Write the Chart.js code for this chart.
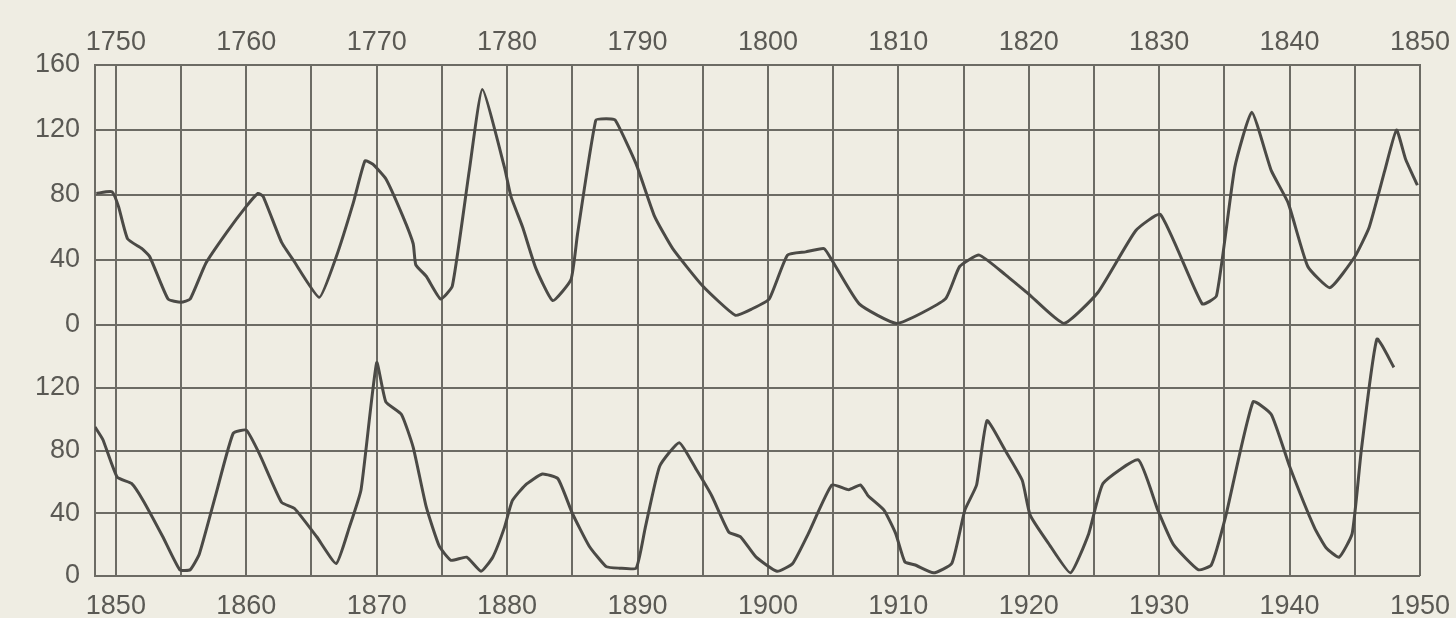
<!DOCTYPE html>
<html>
<head>
<meta charset="utf-8">
<script src="https://cdn.jsdelivr.net/npm/chart.js@4"></script>
<style>
    html, body { margin: 0; padding: 0; background: #efede3; }
    #wrap { width: 1456px; height: 618px; position: relative; }
</style>
</head>
<body>
<div id="wrap"><canvas id="sunChart"></canvas></div>
<script>
// 上段 1750-1850
const topYears = [1748.5, 1749.7, 1750.2, 1750.9, 1752.0, 1752.6, 1754.0, 1755.0, 1755.7, 1756.9,
    1758.5, 1760.0, 1760.9, 1761.3, 1762.7, 1763.6, 1765.6, 1766.9, 1768.2, 1769.1,
    1769.7, 1770.7, 1772.0, 1772.8, 1773.0, 1773.8, 1774.9, 1775.8, 1777.1, 1778.1,
    1779.8, 1780.3, 1781.2, 1782.2, 1783.5, 1784.9, 1785.4, 1786.8, 1787.6, 1788.3,
    1789.9, 1791.3, 1792.7, 1795.0, 1797.5, 1798.8, 1800.1, 1801.5, 1802.9, 1804.3,
    1804.9, 1807.0, 1809.9, 1813.6, 1814.7, 1816.2, 1818.2, 1820.0, 1822.7, 1825.3,
    1828.2, 1830.1, 1833.3, 1834.4, 1835.8, 1837.1, 1838.6, 1839.9, 1841.4, 1843.1,
    1845.0, 1846.1, 1847.3, 1848.2, 1848.9, 1849.8];
const topValues = [81, 82, 73, 53, 47, 42, 16, 14, 16, 38,
    57, 73, 81, 79, 51, 40, 17, 42, 75, 101,
    99, 90, 67, 50, 37, 30, 16, 24, 95, 145,
    97, 79, 60, 35, 15, 28, 56, 126, 127, 126,
    99, 67, 47, 24, 6, 10, 16, 43, 45, 47,
    40, 13, 1, 16, 36, 43, 31, 19, 1, 20,
    58, 68, 13, 18, 97, 131, 95, 75, 36, 23,
    42, 60, 95, 120, 102, 86];

// 下段 1850-1950
const bottomYears = [1848.4, 1849.0, 1850.1, 1851.2, 1852.1, 1853.6, 1854.9, 1855.7, 1856.4, 1857.7,
    1859.0, 1860.0, 1861.0, 1862.7, 1863.7, 1865.4, 1866.9, 1867.9, 1868.8, 1870.0,
    1870.7, 1871.9, 1872.8, 1873.8, 1874.8, 1875.7, 1876.9, 1878.0, 1878.9, 1879.8,
    1880.4, 1881.4, 1882.7, 1883.9, 1885.0, 1886.3, 1887.6, 1888.6, 1889.9, 1890.6,
    1891.7, 1893.2, 1894.5, 1895.7, 1897.0, 1897.9, 1899.1, 1900.7, 1901.9, 1903.1,
    1904.9, 1906.2, 1907.1, 1907.7, 1908.9, 1909.8, 1910.5, 1911.3, 1912.7, 1914.1,
    1915.1, 1916.0, 1916.8, 1918.2, 1919.5, 1920.1, 1921.5, 1923.2, 1924.6, 1925.7,
    1928.4, 1929.9, 1931.1, 1933.0, 1934.0, 1935.1, 1937.2, 1938.6, 1940.0, 1941.9,
    1942.8, 1943.8, 1944.8, 1945.5, 1946.7, 1948.0];
const bottomValues = [95, 87, 63, 59, 48, 25, 4, 4, 14, 53,
    91, 93, 78, 47, 43, 25, 8, 31, 55, 136,
    111, 103, 82, 44, 19, 10, 12, 3, 12, 31,
    48, 58, 65, 62, 40, 19, 6, 5, 5, 31,
    70, 85, 68, 51, 28, 25, 12, 3, 8, 27,
    58, 55, 58, 51, 42, 27, 9, 7, 2, 8,
    42, 58, 99, 80, 61, 39, 21, 2, 27, 59,
    74, 42, 20, 4, 7, 38, 111, 103, 70, 31,
    18, 12, 27, 80, 151, 133];

// 目盛り
const topTickYears = [1750, 1755, 1760, 1765, 1770, 1775, 1780, 1785, 1790, 1795, 1800,
    1805, 1810, 1815, 1820, 1825, 1830, 1835, 1840, 1845, 1850];
const bottomTickYears = [1850, 1855, 1860, 1865, 1870, 1875, 1880, 1885, 1890, 1895, 1900,
    1905, 1910, 1915, 1920, 1925, 1930, 1935, 1940, 1945, 1950];

const gridColor = '#6c6b64';
const inkColor = '#4b4a46';
const labelColor = '#5a5954';
const labelFont = { family: 'Liberation Sans', size: 27 };

function toPoints(xs, ys) {
    return xs.map((x, i) => ({ x: x, y: ys[i] }));
}

function yearLabel(v) {
    return v % 10 === 0 ? String(v) : '';
}

const ctx = document.getElementById('sunChart').getContext('2d');
const chart = new Chart(ctx, {
    type: 'line',
    data: {
        datasets: [
            {
                data: toPoints(topYears, topValues),
                xAxisID: 'x',
                yAxisID: 'yTop',
                borderColor: inkColor,
                borderWidth: 3,
                pointRadius: 0,
                tension: 0.15
            },
            {
                data: toPoints(bottomYears, bottomValues),
                xAxisID: 'x2',
                yAxisID: 'yBottom',
                borderColor: inkColor,
                borderWidth: 3,
                pointRadius: 0,
                tension: 0.15
            }
        ]
    },
    options: {
        responsive: true,
        maintainAspectRatio: false,
        animation: false,
        layout: { padding: { right: 35 } },
        plugins: { legend: { display: false }, tooltip: { enabled: false } },
        scales: {
            x: {
                type: 'linear',
                position: 'top',
                min: 1748.4,
                max: 1850,
                afterBuildTicks: s => { s.ticks = topTickYears.map(v => ({ value: v })); },
                afterFit: s => { s.height = 65; },
                border: { color: gridColor, width: 2 },
                grid: { color: gridColor, lineWidth: 2, drawTicks: false },
                ticks: {
                    autoSkip: false,
                    maxRotation: 0,
                    padding: 6,
                    color: labelColor,
                    font: labelFont,
                    callback: yearLabel
                }
            },
            x2: {
                type: 'linear',
                position: 'bottom',
                min: 1848.4,
                max: 1950,
                afterBuildTicks: s => { s.ticks = bottomTickYears.map(v => ({ value: v })); },
                afterFit: s => { s.height = 42; },
                border: { color: gridColor, width: 2 },
                grid: { display: false },
                ticks: {
                    autoSkip: false,
                    maxRotation: 0,
                    padding: 6,
                    color: labelColor,
                    font: labelFont,
                    callback: yearLabel
                }
            },
            yBottom: {
                type: 'linear',
                position: 'left',
                stack: 'sun',
                stackWeight: 251,
                min: 0,
                max: 160,
                afterFit: s => { s.width = 95; },
                border: { color: gridColor, width: 2 },
                grid: { color: gridColor, lineWidth: 2, drawTicks: false },
                ticks: {
                    stepSize: 20,
                    padding: 15,
                    color: labelColor,
                    font: labelFont,
                    callback: v => (v % 40 === 0 && v !== 160 ? String(v) : '')
                }
            },
            yTop: {
                type: 'linear',
                position: 'left',
                stack: 'sun',
                stackWeight: 260,
                min: 0,
                max: 160,
                afterFit: s => { s.width = 95; },
                border: { color: gridColor, width: 2 },
                grid: { color: gridColor, lineWidth: 2, drawTicks: false },
                ticks: {
                    stepSize: 20,
                    padding: 15,
                    color: labelColor,
                    font: labelFont,
                    callback: v => (v % 40 === 0 ? String(v) : '')
                }
            }
        }
    }
});
</script>
</body>
</html>
